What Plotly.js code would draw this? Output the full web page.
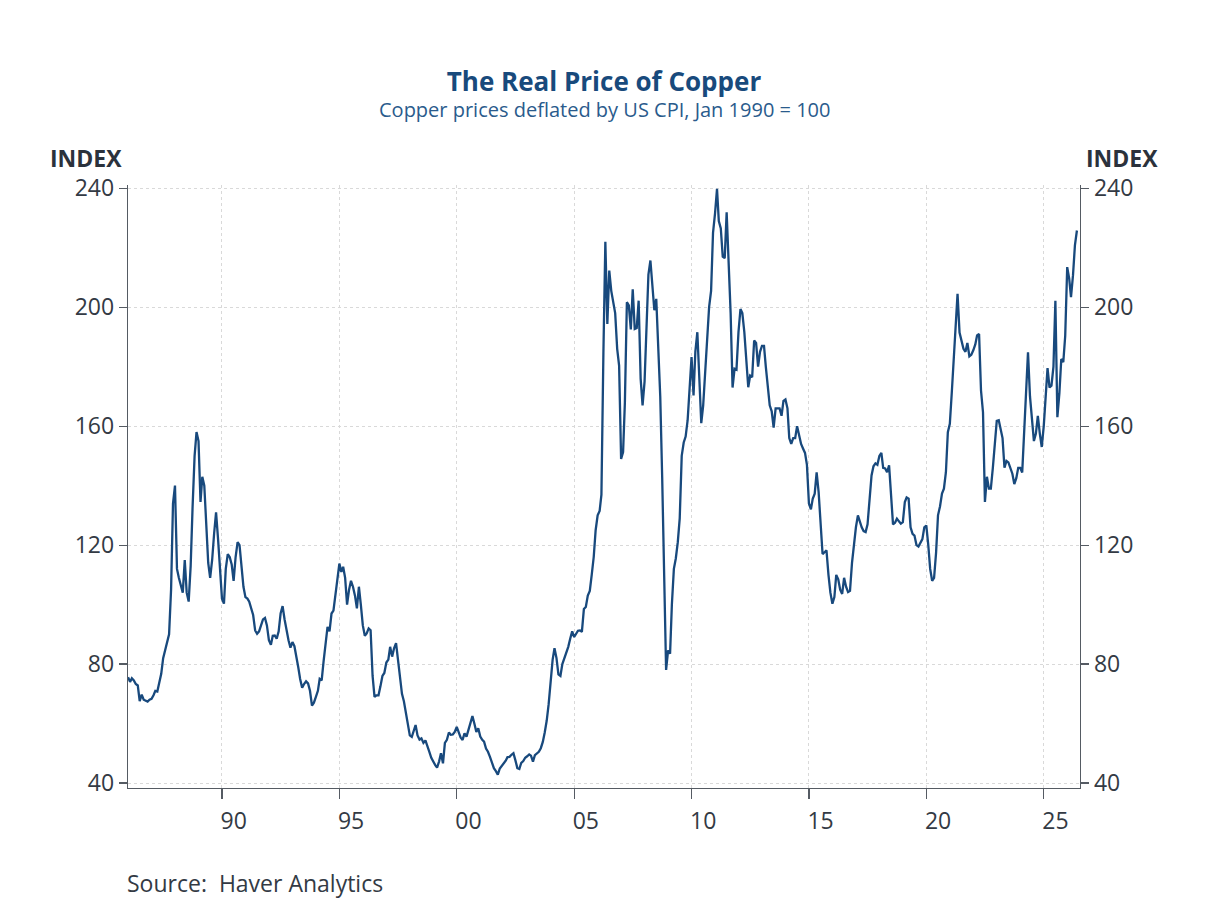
<!DOCTYPE html>
<html>
<head>
<meta charset="utf-8">
<script src="https://cdn.plot.ly/plotly-3.0.1.min.js"></script>
<style>
  html, body { margin: 0; padding: 0; background: #ffffff; }
  #chart { width: 1208px; height: 906px; }
</style>
</head>
<body>
<div id="chart"></div>
<script>
// Monthly real copper price index (Jan 1990 = 100), starting Jan 1986
const startYear = 1986;
const copper1986to1989 = [
  75.6, 74, 75.2, 74.5, 73.3, 72.8, 67.5, 69.7, 68, 67.8, 67.4, 68,
  68.3, 69.5, 71, 70.8, 73.5, 76.7, 82, 85, 87, 90, 105, 134,
  140, 112, 109, 106, 104, 115, 104, 101, 113, 133, 150, 158,
  155, 134.5, 143, 140, 128, 114, 109, 115, 124, 131, 122, 112
];
const copper1990s = [
  102, 100.3, 112, 117, 116, 113.5, 108, 116, 121, 120, 113, 106,
  102.5, 102, 101, 99, 96.5, 91.3, 90.2, 91, 93, 95, 95.5, 93,
  88, 86.5, 89.5, 89.6, 88.5, 91, 97, 99.5, 95, 91, 88, 85.5,
  87.4, 86, 82, 79, 75, 72, 73.3, 74.2, 73.5, 71, 66, 67,
  69, 71, 75, 74.5, 81, 88, 92.5, 91, 97, 98, 103, 108,
  113.8, 111, 112.7, 109, 100, 105, 108, 106, 103, 98.7, 106, 100,
  93, 89.5, 90.3, 92, 91.4, 76, 69, 69.5, 69.5, 72.5, 76, 77,
  80.5, 81.5, 85.8, 82.5, 85.3, 87, 82, 76.3, 70, 67.5, 63.5, 59,
  56, 55.5, 57.8, 59.5, 56, 54.6, 55, 53.5, 54.3, 52, 50.5, 48.5,
  47, 46, 45.2, 47.2, 50, 46.6, 53.5, 54.5, 57, 56.2, 56.3, 57.2
];
const copper2000s = [
  58.9, 57.2, 55.3, 54.5, 56.7, 55.6, 57.8, 60, 62.5, 60, 57.2, 58.4,
  55.6, 54.5, 53.9, 51.6, 50.5, 48.8, 46.6, 45, 44, 42.8, 44.9, 45.8,
  46.3, 47.5, 48.7, 48.8, 49.5, 50, 47.7, 45, 44.7, 46.8, 47.4, 48.5,
  49, 49.6, 49.2, 47.2, 49.4, 50, 50.5, 51.7, 53.8, 57, 61, 66.5,
  74, 81.5, 85.3, 82, 76.5, 76, 80, 81.8, 84, 85.8, 88.6, 91,
  89.1, 90.5, 91.2, 91.3, 90.8, 98.5, 99.2, 103, 104.6, 110, 116, 125,
  130, 131.5, 137, 185, 222, 194.4, 212.3, 205.5, 202, 198, 186, 180.4,
  149, 151.3, 168, 201.7, 200.6, 192.5, 206, 192.7, 193, 202.2, 176, 167,
  175, 195, 211, 215.7, 208, 199, 202.8, 185, 170, 143, 108.7, 78,
  84.6, 83.5, 100, 112, 115.5, 121, 129, 150, 154.5, 156.5, 162, 173
];
const copper2010s = [
  183.2, 170.3, 185, 191.6, 178.2, 161, 167, 178, 189, 200, 205.5, 225,
  231.5, 239.8, 229, 226.5, 217, 216.5, 231.9, 215.1, 198, 173, 179.3, 179,
  191.6, 199.4, 198, 191.6, 182.6, 173.1, 177, 176.5, 188.8, 188, 180, 185,
  187, 187, 180, 173, 167, 165, 159.5, 166, 166, 166, 163.5, 168.5,
  169, 166, 156, 154, 156, 156, 160, 156.5, 154, 152.5, 151, 147,
  134, 132, 135.6, 137.3, 144.5, 137.8, 125.5, 117, 117.6, 118.2, 110, 104,
  100.3, 102.5, 110, 108.5, 105, 103.6, 109, 106, 104.2, 104.6, 114, 121,
  126, 130, 128, 126, 124.7, 124.4, 127, 137, 143.4, 146.5, 147.5, 147,
  150, 151, 146, 145.8, 144.5, 146.8, 135, 127, 127.5, 128.9, 128, 127.2,
  127.7, 134.5, 136, 135.6, 126, 123.8, 123.2, 120, 119.5, 120.8, 122, 126
];
const copper2020s = [
  126.6, 119.9, 112, 108, 109, 117.5, 130, 133, 137.3, 139, 144.5, 158,
  160.8, 171.5, 181, 191, 204.5, 191.5, 188.3, 186, 185, 188, 183.5, 184,
  185.5, 187.5, 190.5, 191, 172, 164.7, 134.5, 143, 139, 139, 146, 153,
  161.8, 162, 158.5, 156, 146, 148.3, 147.8, 146, 144, 140.5, 142.5, 146,
  146, 144.4, 158, 172, 184.8, 170, 163, 155, 157.5, 163.5, 157.5, 153,
  160, 169, 179.5, 173, 173.6, 180, 202.2, 163, 171, 182.6, 181.5, 190.4,
  213.5, 209.6, 203.4, 210.7, 220.8, 225.8
];

const tickYears = [1990, 1995, 2000, 2005, 2010, 2015, 2020, 2025];
const tickLabels = ['90', '95', '00', '05', '10', '15', '20', '25'];
const yTicks = [40, 80, 120, 160, 200, 240];

const values = [].concat(copper1986to1989, copper1990s, copper2000s, copper2010s, copper2020s);
const dates = values.map(function (v, i) {
  const y = startYear + Math.floor(i / 12);
  const m = (i % 12) + 1;
  return y + '-' + (m < 10 ? '0' + m : m) + '-01';
});

const font = '"Open Sans", "Noto Sans", sans-serif';
const xRange = ['1985-12-31', '2026-07-19'];
const yRange = [38.32, 241.1];
const gridColor = '#d9d9d9';
const gridDash = '3px,3px';

const traces = [
  {
    x: dates, y: values, type: 'scatter', mode: 'lines',
    line: { color: '#18497d', width: 2.3 },
    hoverinfo: 'x+y', showlegend: false
  },
  {
    x: dates, y: values, xaxis: 'x2', yaxis: 'y2', type: 'scatter', mode: 'lines',
    line: { color: 'rgba(0,0,0,0)', width: 0 }, hoverinfo: 'skip', showlegend: false
  }
];

const layout = {
  width: 1208, height: 906,
  margin: { l: 128, r: 128, t: 185, b: 118, pad: 0 },
  paper_bgcolor: '#ffffff', plot_bgcolor: '#ffffff',
  font: { family: font, color: '#333333' },
  showlegend: false,
  title: {
    text: '<b>The Real Price of Copper</b>',
    font: { family: font, size: 26, color: '#184a7c' },
    x: 0.5, xanchor: 'center', xref: 'paper',
    y: 1 - 82 / 906, yanchor: 'middle', yref: 'container'
  },
  xaxis: {
    type: 'date', range: xRange,
    tickvals: tickYears.map(function (y) { return y + '-01-01'; }),
    showticklabels: false,
    ticks: 'outside', ticklen: 10, tickwidth: 1.2, tickcolor: '#555b63',
    showline: true, linecolor: '#555b63', linewidth: 1.3,
    showgrid: true, gridcolor: gridColor, griddash: gridDash, gridwidth: 1,
    zeroline: false, fixedrange: true
  },
  xaxis2: {
    type: 'date', range: xRange, overlaying: 'x', anchor: 'y', side: 'bottom',
    tickvals: tickYears.map(function (y) { return y + '-07-02'; }),
    ticktext: tickLabels,
    ticks: 'outside', ticklen: 12, tickcolor: 'rgba(0,0,0,0)',
    tickfont: { family: font, size: 23, color: '#333a44' },
    showline: false, showgrid: false, zeroline: false, fixedrange: true
  },
  yaxis: {
    range: yRange, tickvals: yTicks,
    ticks: 'outside', ticklen: 8, tickwidth: 1.2, tickcolor: '#555b63',
    tickfont: { family: font, size: 23, color: '#333a44' },
    showline: true, linecolor: '#555b63', linewidth: 1.3,
    showgrid: true, gridcolor: gridColor, griddash: gridDash, gridwidth: 1,
    zeroline: false, fixedrange: true
  },
  yaxis2: {
    range: yRange, tickvals: yTicks, overlaying: 'y', side: 'right', anchor: 'x',
    ticks: 'outside', ticklen: 8, tickwidth: 1.2, tickcolor: '#555b63',
    tickfont: { family: font, size: 23, color: '#333a44' },
    showline: true, linecolor: '#555b63', linewidth: 1.3,
    showgrid: false, zeroline: false, fixedrange: true
  },
  annotations: [
    {
      text: 'Copper prices deflated by US CPI, Jan 1990 = 100',
      xref: 'paper', yref: 'paper', x: 0.5, y: 1 + (185 - 109) / 603.3,
      xanchor: 'center', yanchor: 'middle', showarrow: false,
      font: { family: font, size: 20, color: '#2a5b8c' }
    },
    {
      text: '<b>INDEX</b>',
      xref: 'paper', yref: 'paper', x: (124 - 128) / 952, y: 1 + (185 - 158) / 603.3,
      xanchor: 'right', yanchor: 'middle', showarrow: false,
      font: { family: font, size: 23, color: '#2b323c' }
    },
    {
      text: '<b>INDEX</b>',
      xref: 'paper', yref: 'paper', x: (1084 - 128) / 952, y: 1 + (185 - 158) / 603.3,
      xanchor: 'left', yanchor: 'middle', showarrow: false,
      font: { family: font, size: 23, color: '#2b323c' }
    },
    {
      text: 'Source:  Haver Analytics',
      xref: 'paper', yref: 'paper', x: (125 - 128) / 952, y: -(883 - 788.3) / 603.3,
      xanchor: 'left', yanchor: 'middle', showarrow: false,
      font: { family: font, size: 23, color: '#333a44' }
    }
  ]
};

Plotly.newPlot('chart', traces, layout, { displayModeBar: false, staticPlot: true });
</script>
</body>
</html>
